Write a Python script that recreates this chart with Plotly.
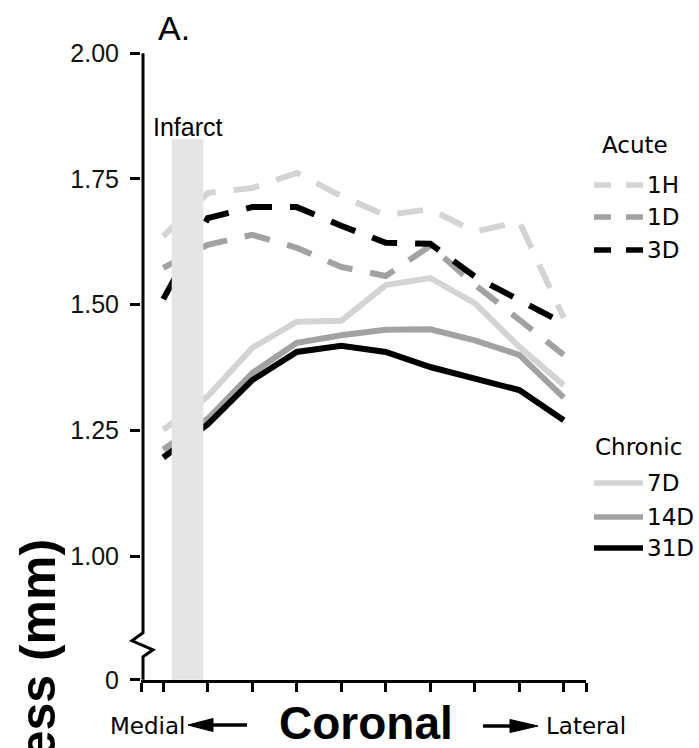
import plotly.graph_objects as go

# Coronal sampling positions, medial -> lateral
positions = [1, 2, 3, 4, 5, 6, 7, 8, 9, 10]

# Cortical thickness (mm), acute time points
acute_1h = [1.636, 1.722, 1.732, 1.762, 1.716, 1.678, 1.690, 1.645, 1.665, 1.474]
acute_1d = [1.573, 1.619, 1.639, 1.613, 1.575, 1.557, 1.617, 1.540, 1.470, 1.400]
acute_3d = [1.511, 1.672, 1.694, 1.694, 1.657, 1.623, 1.621, 1.556, 1.509, 1.463]

# Cortical thickness (mm), chronic time points
chronic_7d = [1.251, 1.318, 1.414, 1.466, 1.468, 1.539, 1.553, 1.503, 1.416, 1.340]
chronic_14d = [1.212, 1.273, 1.364, 1.424, 1.439, 1.450, 1.451, 1.429, 1.400, 1.315]
chronic_31d = [1.196, 1.262, 1.350, 1.406, 1.418, 1.406, 1.376, 1.354, 1.330, 1.270]

acute_labels = ["1H", "1D", "3D"]
chronic_labels = ["7D", "14D", "31D"]

# Infarct region along the coronal axis
infarct_x = (1.19, 1.90)
infarct_top = 1.829

y_tickvals = [0.754, 1.00, 1.25, 1.50, 1.75, 2.00]
y_ticktext = ["0", "1.00", "1.25", "1.50", "1.75", "2.00"]

shades = ["#d4d4d4", "#a2a2a2", "#000000"]

W, H = 699, 748
L, T, PW, PH = 141, 53, 445, 627


def fx(px):
    return (px - L) / PW


def fy(py):
    return (T + PH - py) / PH


fig = go.Figure()

dash_plot = "26px,18px"
for vals, name, col in zip([acute_1h, acute_1d, acute_3d], acute_labels, shades):
    fig.add_trace(go.Scatter(x=positions, y=vals, mode="lines", name=name,
                             line=dict(color=col, width=6, dash=dash_plot),
                             showlegend=False))
for vals, name, col in zip([chronic_7d, chronic_14d, chronic_31d], chronic_labels, shades):
    fig.add_trace(go.Scatter(x=positions, y=vals, mode="lines", name=name,
                             line=dict(color=col, width=6),
                             showlegend=False))

shapes = []
# infarct band, drawn over the lines
shapes.append(dict(type="rect", xref="x", yref="y", x0=infarct_x[0], x1=infarct_x[1],
                   y0=y_tickvals[0], y1=infarct_top, fillcolor="#e5e5e5",
                   line=dict(width=0), layer="above"))

# y axis line with a break above zero
yb = lambda py: 1.75 - (py - 179) / 503.0
shapes.append(dict(type="path", xref="paper", yref="y",
                   path=(f"M {fx(143)},{2.0} L {fx(143)},{yb(633)} L {fx(132)},{yb(641)} "
                         f"L {fx(153)},{yb(650)} L {fx(143)},{yb(657)} L {fx(143)},{y_tickvals[0]}"),
                   line=dict(color="black", width=3), layer="above"))

# direction arrows under the x axis
def arrow(tip, base, end, yc, half):
    s = []
    s.append(dict(type="line", xref="paper", yref="paper",
                  x0=fx(base), x1=fx(end), y0=fy(yc), y1=fy(yc),
                  line=dict(color="black", width=3.5)))
    s.append(dict(type="path", xref="paper", yref="paper",
                  path=(f"M {fx(tip)},{fy(yc)} L {fx(base)},{fy(yc - half)} "
                        f"L {fx(base)},{fy(yc + half)} Z"),
                  fillcolor="black", line=dict(color="black", width=1)))
    return s

shapes += arrow(188, 213, 247, 725, 6.5)
shapes += arrow(538, 510, 483, 726, 6.5)

# legend samples
leg_x0, leg_x1 = fx(594), fx(643)
acute_rows = [185, 217, 250]
chronic_rows = [483, 517, 548]
for row, col in zip(acute_rows, shades):
    shapes.append(dict(type="line", xref="paper", yref="paper", x0=leg_x0, x1=leg_x1,
                       y0=fy(row), y1=fy(row),
                       line=dict(color=col, width=5.5, dash="17px,15px")))
for row, col in zip(chronic_rows, shades):
    shapes.append(dict(type="line", xref="paper", yref="paper", x0=leg_x0, x1=leg_x1,
                       y0=fy(row), y1=fy(row), line=dict(color=col, width=5.5)))

verd = "DejaVu Sans"
arial = "Liberation Sans, Arial"
ann = []


def text(s, px, py, size, family, xanchor="left", yanchor="middle", bold=False, angle=0):
    ann.append(dict(text=f"<b>{s}</b>" if bold else s, xref="paper", yref="paper",
                    x=fx(px), y=fy(py), xanchor=xanchor, yanchor=yanchor,
                    showarrow=False, textangle=angle,
                    font=dict(family=family, size=size, color="black")))

text("A.", 174, 28, 34, arial, xanchor="center")
text("Infarct", 188, 127, 25, arial, xanchor="center")
text("Acute", 600, 145, 23, verd)
for row, lab in zip(acute_rows, acute_labels):
    text(lab, 645, row, 23, verd)
text("Chronic", 593, 447, 23, verd)
for row, lab in zip(chronic_rows, chronic_labels):
    text(lab, 645, row, 23, verd)
text("Medial", 187, 726, 23, verd, xanchor="right")
text("Lateral", 544, 726, 23, verd)
text("Coronal", 366, 723, 46, arial, xanchor="center", bold=True)
text("Thickness (mm)", 37, 537, 50, arial, xanchor="center", yanchor="top",
     bold=True, angle=-90)

fig.update_layout(
    width=W, height=H,
    margin=dict(l=L, r=W - L - PW, t=T, b=H - T - PH, pad=0),
    paper_bgcolor="white", plot_bgcolor="white",
    showlegend=False,
    shapes=shapes, annotations=ann,
    xaxis=dict(range=[0.5, 10.5], showgrid=False, zeroline=False,
               showline=True, linecolor="black", linewidth=3,
               ticks="outside", ticklen=9, tickwidth=2.5, tickcolor="black",
               tickvals=[0.5] + positions + [10.5], showticklabels=False),
    yaxis=dict(range=[0.7535, 2.0005], showgrid=False, zeroline=False, showline=False,
               ticks="outside", ticklen=10, tickwidth=3, tickcolor="black",
               tickvals=y_tickvals, ticktext=y_ticktext, ticklabelstandoff=6,
               tickfont=dict(family=arial, size=25, color="#111111")),
)

fig.write_html("out.html")
